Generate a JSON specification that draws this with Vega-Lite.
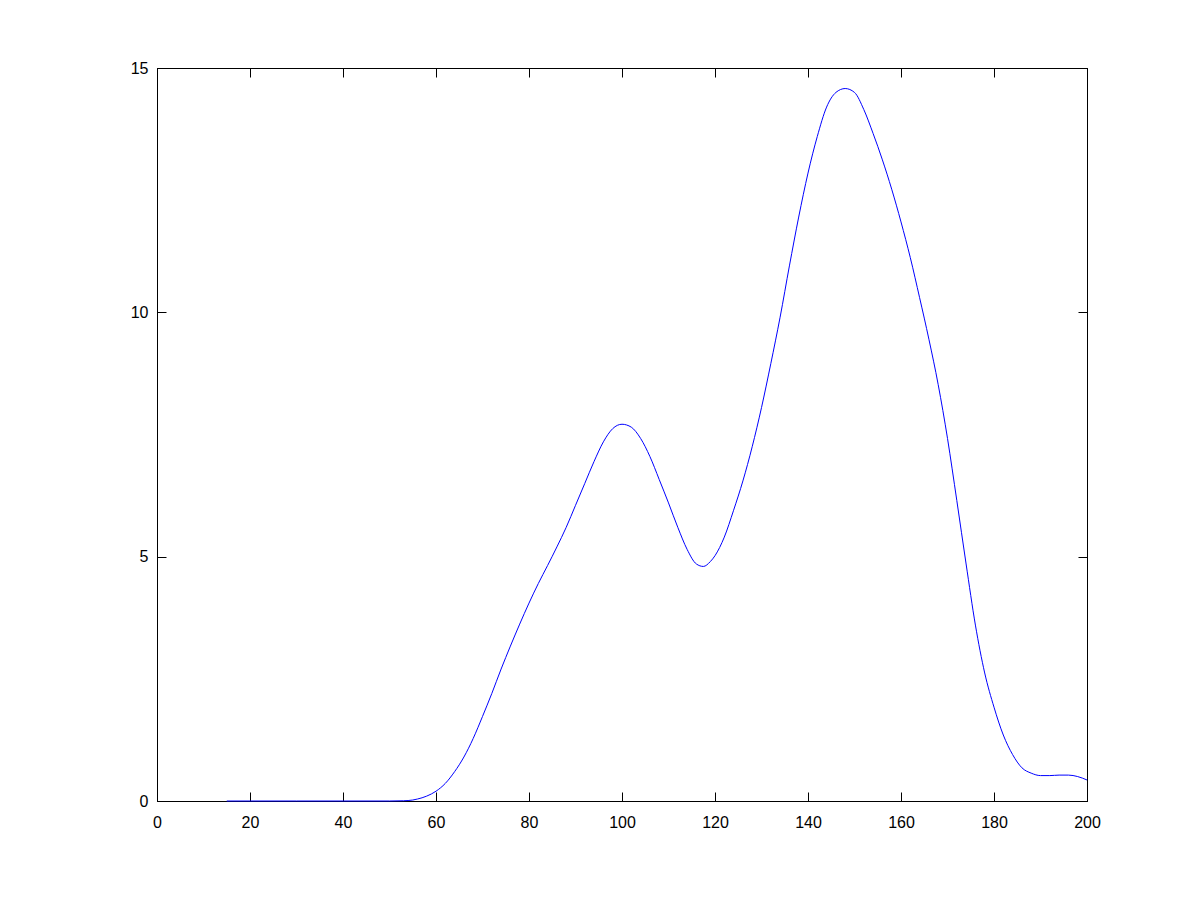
{
  "$schema": "https://vega.github.io/schema/vega-lite/v6.json",
  "width": 930,
  "height": 733,
  "autosize": {"type": "none"},
  "padding": {"left": 157, "top": 68, "right": 114, "bottom": 99},
  "background": "white",
  "config": {
    "view": {"stroke": "black", "strokeWidth": 1},
    "axis": {
      "grid": false,
      "domainColor": "black",
      "tickColor": "black",
      "labelColor": "black",
      "labelFont": "Liberation Sans",
      "labelFontSize": 16,
      "tickSize": -9,
      "labelFlush": false,
      "labelOverlap": false,
      "title": null
    }
  },
  "data": {
    "values": [
      {"x": 15, "y": 0}, {"x": 20, "y": 0}, {"x": 30, "y": 0}, {"x": 40, "y": 0},
      {"x": 50, "y": 0}, {"x": 53, "y": 0.005}, {"x": 55, "y": 0.02}, {"x": 56, "y": 0.04},
      {"x": 58, "y": 0.1}, {"x": 60, "y": 0.2}, {"x": 62, "y": 0.36}, {"x": 64, "y": 0.6},
      {"x": 66, "y": 0.9}, {"x": 68, "y": 1.28}, {"x": 70, "y": 1.73}, {"x": 72, "y": 2.2},
      {"x": 74, "y": 2.7}, {"x": 76, "y": 3.17}, {"x": 78, "y": 3.62}, {"x": 80, "y": 4.05},
      {"x": 82, "y": 4.45}, {"x": 84, "y": 4.82}, {"x": 86, "y": 5.2}, {"x": 88, "y": 5.6},
      {"x": 90, "y": 6.05}, {"x": 92, "y": 6.5}, {"x": 94, "y": 6.95}, {"x": 96, "y": 7.35},
      {"x": 98, "y": 7.62}, {"x": 100, "y": 7.71}, {"x": 102, "y": 7.65}, {"x": 104, "y": 7.42},
      {"x": 106, "y": 7.05}, {"x": 108, "y": 6.58}, {"x": 110, "y": 6.1}, {"x": 112, "y": 5.6},
      {"x": 114, "y": 5.15}, {"x": 116, "y": 4.85}, {"x": 117.5, "y": 4.8}, {"x": 119, "y": 4.9},
      {"x": 120, "y": 5.02}, {"x": 122, "y": 5.4}, {"x": 124, "y": 5.95}, {"x": 126, "y": 6.55},
      {"x": 128, "y": 7.25}, {"x": 130, "y": 8.05}, {"x": 132, "y": 8.95}, {"x": 134, "y": 9.9},
      {"x": 136, "y": 10.95}, {"x": 138, "y": 11.95}, {"x": 140, "y": 12.85}, {"x": 142, "y": 13.6},
      {"x": 144, "y": 14.2}, {"x": 146, "y": 14.5}, {"x": 148, "y": 14.58}, {"x": 150, "y": 14.5},
      {"x": 152, "y": 14.15}, {"x": 154, "y": 13.66}, {"x": 156, "y": 13.12}, {"x": 158, "y": 12.52},
      {"x": 160, "y": 11.85}, {"x": 162, "y": 11.12}, {"x": 164, "y": 10.3}, {"x": 166, "y": 9.45},
      {"x": 168, "y": 8.52}, {"x": 170, "y": 7.42}, {"x": 172, "y": 6.15}, {"x": 174, "y": 4.85},
      {"x": 176, "y": 3.6}, {"x": 178, "y": 2.62}, {"x": 180, "y": 1.92}, {"x": 182, "y": 1.35},
      {"x": 184, "y": 0.95}, {"x": 186, "y": 0.68}, {"x": 188, "y": 0.57}, {"x": 190, "y": 0.52},
      {"x": 192, "y": 0.52}, {"x": 194, "y": 0.53}, {"x": 196, "y": 0.53}, {"x": 198, "y": 0.5},
      {"x": 200, "y": 0.43}
    ]
  },
  "resolve": {"axis": {"x": "independent", "y": "independent"}},
  "layer": [
    {
      "mark": {"type": "line", "color": "#0000ff", "strokeWidth": 1, "interpolate": "monotone"},
      "encoding": {
        "x": {"field": "x", "type": "quantitative", "scale": {"domain": [0, 200], "nice": false},
          "axis": {"orient": "bottom", "values": [0, 20, 40, 60, 80, 100, 120, 140, 160, 180, 200], "labelPadding": 22}},
        "y": {"field": "y", "type": "quantitative", "scale": {"domain": [0, 15], "nice": false},
          "axis": {"orient": "left", "values": [0, 5, 10, 15], "labelPadding": 18}}
      }
    },
    {
      "mark": {"type": "line", "opacity": 0},
      "encoding": {
        "x": {"field": "x", "type": "quantitative",
          "axis": {"orient": "top", "values": [0, 20, 40, 60, 80, 100, 120, 140, 160, 180, 200], "labels": false}},
        "y": {"field": "y", "type": "quantitative",
          "axis": {"orient": "right", "values": [0, 5, 10, 15], "labels": false}}
      }
    }
  ]
}
